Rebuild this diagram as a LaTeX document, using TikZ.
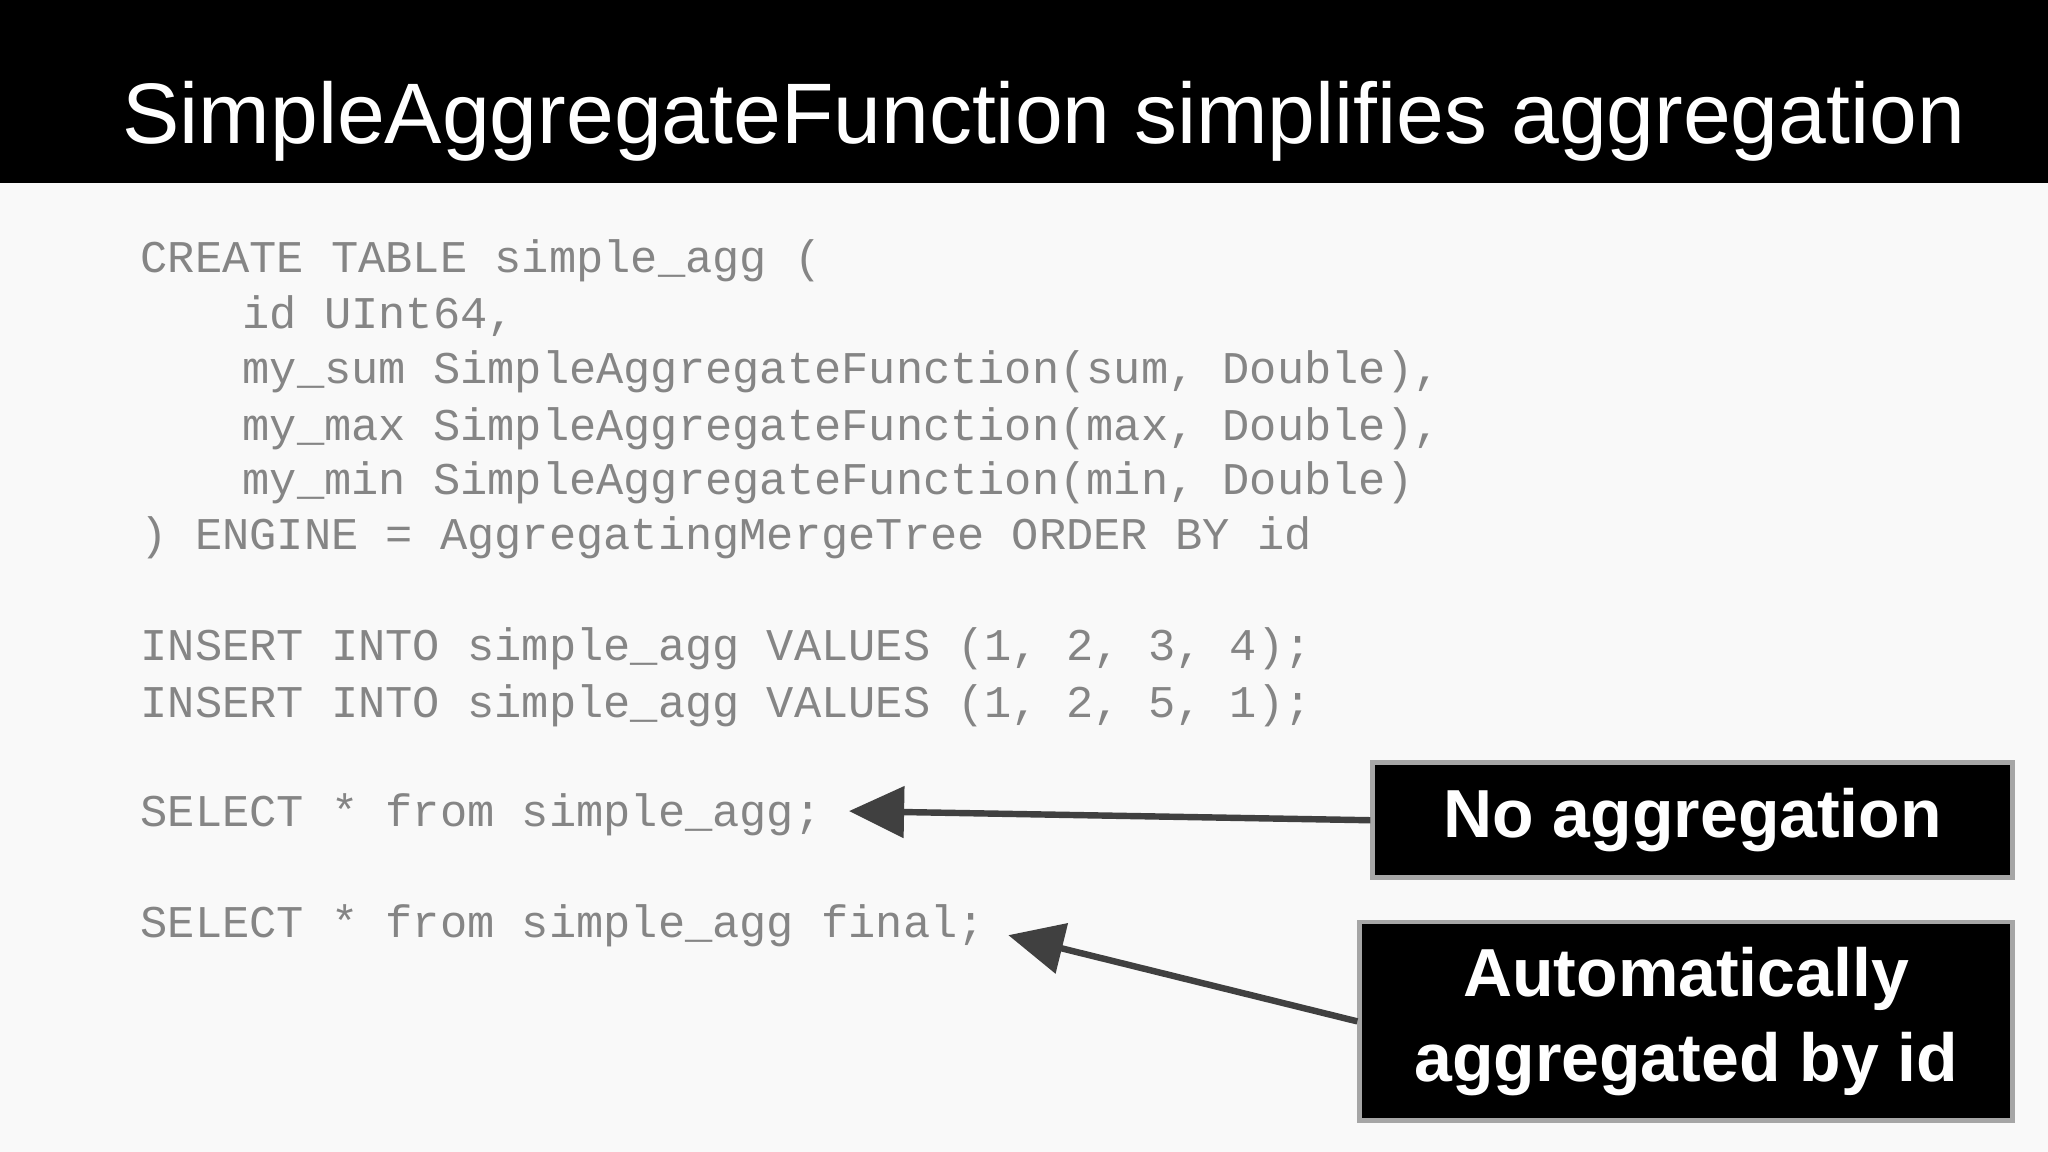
\documentclass[tikz,border=0pt]{standalone}
\usepackage{fontspec}
\setmainfont{Liberation Sans}
\setmonofont{Liberation Mono}
\usetikzlibrary{arrows.meta}
\definecolor{bg}{HTML}{F9F9F9}
\definecolor{codec}{HTML}{858585}
\definecolor{arr}{HTML}{404040}
\tikzset{
 code/.style={anchor=west,inner sep=0pt,text=codec,font=\ttfamily\fontsize{9.88pt}{12pt}\selectfont},
 lbl/.style={draw=gray!70,line width=1pt,fill=black,text=white,align=center,font=\bfseries\fontsize{14.8pt}{18.5pt}\selectfont},
 pointer/.style={draw=arr,line width=1.4pt,-{Triangle[length=12pt,width=11pt]}}
}
\begin{document}
\begin{tikzpicture}[x=0.01cm,y=-0.01cm]
\useasboundingbox (0,0) rectangle (1568,882);
\fill[bg] (0,0) rectangle (1568,140);
\fill[bg] (0,140) rectangle (1568,882);
\fill[black] (0,0) rectangle (1568,140);
\node[text=white,font=\fontsize{18.7pt}{21pt}\selectfont,anchor=west,inner sep=0pt] (title) at (93,93) {SimpleAggregateFunction simplifies aggregation};
\node[code] (l1) at (107,200) {CREATE TABLE simple\_agg (};
\node[code] (l2) at (185,242) {id UInt64,};
\node[code] (l3) at (185,285) {my\_sum SimpleAggregateFunction(sum, Double),};
\node[code] (l4) at (185,328) {my\_max SimpleAggregateFunction(max, Double),};
\node[code] (l5) at (185,370) {my\_min SimpleAggregateFunction(min, Double)};
\node[code] (l6) at (107,412) {) ENGINE = AggregatingMergeTree ORDER BY id};
\node[code] (l7) at (107,497) {INSERT INTO simple\_agg VALUES (1, 2, 3, 4);};
\node[code] (l8) at (107,540) {INSERT INTO simple\_agg VALUES (1, 2, 5, 1);};
\node[code] (s1) at (107,624) {SELECT * from simple\_agg;};
\node[code] (s2) at (107,709) {SELECT * from simple\_agg final;};
\node[lbl,minimum width=490*0.01cm,minimum height=88*0.01cm] (b1) at (1296,628) {No aggregation};
\node[lbl,minimum width=500*0.01cm,minimum height=152*0.01cm] (b2) at (1291,782) {Automatically\\aggregated by id};
\coordinate (t1) at (650,621);
\coordinate (t2) at (772,716);
\draw[pointer] (b1.west) -- (t1);
\draw[pointer] (b2.west) -- (t2);
\end{tikzpicture}
\end{document}
